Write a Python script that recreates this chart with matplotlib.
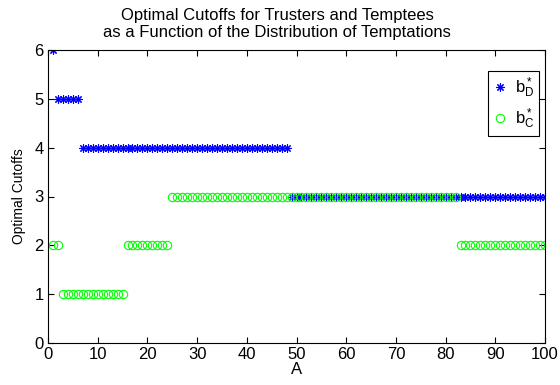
import numpy as np
import matplotlib.pyplot as plt

plt.rcParams['font.family'] = ['Liberation Sans', 'DejaVu Sans']
plt.rcParams['mathtext.fontset'] = 'custom'
plt.rcParams['mathtext.rm'] = 'Liberation Sans'
plt.rcParams['mathtext.it'] = 'Liberation Sans'

# A values and optimal cutoffs
A = np.arange(1, 101)
b_D = [6] + [5] * 5 + [4] * 42 + [3] * 52
b_C = [2] * 2 + [1] * 13 + [2] * 9 + [3] * 58 + [2] * 18

fig = plt.figure(figsize=(5.6, 3.85), dpi=100)
ax = fig.add_axes([48 / 560, 1 - 343 / 385, 497 / 560, 293 / 385])

ax.plot(A, b_D, linestyle='none', marker=(8, 2, 0), color='#0000ff', markersize=6,
        markeredgewidth=0.8, label=r'$\mathrm{b}^*_\mathrm{D}$')
ax.plot(A, b_C, linestyle='none', marker='o', markerfacecolor='none',
        markeredgecolor='#00ff00', markersize=6, markeredgewidth=0.8,
        label=r'$\mathrm{b}^*_\mathrm{C}$')

ax.set_xlim(0, 100)
ax.set_ylim(0, 6)
ax.set_xticks(range(0, 101, 10))
ax.set_yticks(range(0, 7))
ax.tick_params(direction='in', top=True, right=True, labelsize=12, length=4, pad=3)
ax.set_xlabel('A', fontsize=12, labelpad=0)
ax.set_ylabel('Optimal Cutoffs', fontsize=10, labelpad=6)
ax.set_title('Optimal Cutoffs for Trusters and Temptees\nas a Function of the Distribution of Temptations',
             fontsize=12, pad=9, x=(277 - 48) / 497)

leg = ax.legend(loc='upper right', bbox_to_anchor=(539 / 560, 1 - 71 / 385),
                bbox_transform=fig.transFigure, fancybox=False,
                framealpha=1, edgecolor='black', fontsize=12, handlelength=0.8,
                handletextpad=0.5, borderpad=0.3, labelspacing=0.35, borderaxespad=0)
leg.get_frame().set_linewidth(0.8)

plt.savefig('out.png', dpi=100)
